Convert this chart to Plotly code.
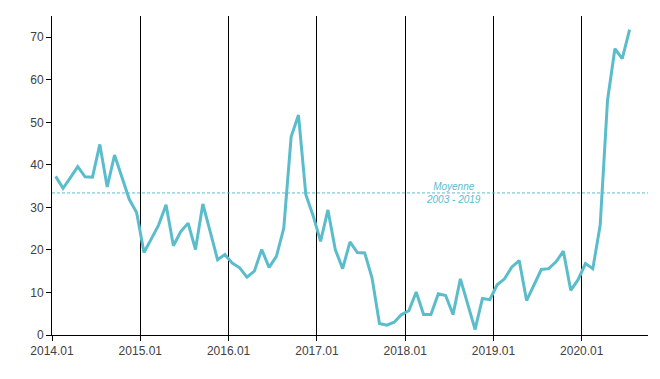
import plotly.graph_objects as go

# Monthly series, 2014.01 -> 2020.07
start_year = 2014
values = [
    37.3, 34.5, 37.0, 39.6, 37.2, 37.1, 44.8, 34.8, 42.3, 37.0, 31.9, 28.8,   # 2014
    19.4, 22.6, 25.9, 30.6, 21.0, 24.3, 26.3, 20.1, 30.8, 24.3, 17.7, 18.9,   # 2015
    16.9, 15.8, 13.6, 15.0, 20.1, 15.9, 18.5, 25.1, 46.6, 51.7, 33.0, 28.0,   # 2016
    22.0, 29.4, 20.1, 15.6, 21.9, 19.4, 19.3, 13.4, 2.7, 2.3, 3.0, 4.8,       # 2017
    5.7, 10.1, 4.8, 4.8, 9.7, 9.3, 4.8, 13.2, 7.2, 1.3, 8.6, 8.3,             # 2018
    11.8, 13.2, 16.0, 17.5, 8.1, 11.8, 15.4, 15.6, 17.2, 19.7, 10.5, 13.0,    # 2019
    16.8, 15.6, 25.8, 55.2, 67.3, 65.0, 71.8,                                 # 2020
]
year_labels = ["2014.01", "2015.01", "2016.01", "2017.01", "2018.01", "2019.01", "2020.01"]
mean_value = 33.4
mean_label = "Moyenne<br>2003 - 2019"
y_ticks = [0, 10, 20, 30, 40, 50, 60, 70]

LINE_COLOR = "#5bbdcc"

# months since 2014.01, plotted at mid-month
x_pos = [i + 0.5 for i in range(len(values))]
tick_pos = [12 * k for k in range(len(year_labels))]

fig = go.Figure()
fig.add_trace(go.Scatter(
    x=x_pos, y=values, mode="lines",
    line=dict(color=LINE_COLOR, width=3),
    hoverinfo="skip", showlegend=False,
))

fig.add_shape(type="line", xref="paper", x0=0, x1=1, yref="y",
              y0=mean_value, y1=mean_value,
              line=dict(color=LINE_COLOR, width=1, dash="3px,2px"))

fig.add_annotation(x=54.5, y=mean_value, xref="x", yref="y",
                   text="<i>" + mean_label + "</i>", showarrow=False,
                   font=dict(family="Liberation Sans, Arial", size=10, color=LINE_COLOR),
                   align="center")

axis_font = dict(family="Liberation Sans, Arial", size=12, color="#404040")

fig.update_layout(
    width=652, height=371,
    margin=dict(l=44, r=12, t=8, b=44),
    paper_bgcolor="white", plot_bgcolor="white",
    showlegend=False,
    xaxis=dict(
        range=[0, 81], tickvals=tick_pos, ticktext=year_labels,
        showgrid=True, gridcolor="black", gridwidth=1,
        showline=True, linecolor="black", linewidth=1,
        ticks="outside", ticklen=5, tickcolor="black",
        zeroline=False, tickfont=axis_font,
    ),
    yaxis=dict(
        range=[0, 75], tickvals=y_ticks,
        showgrid=False, zeroline=False,
        showline=True, linecolor="black", linewidth=1,
        ticks="outside", ticklen=5, tickcolor="black",
        tickfont=axis_font,
    ),
)

fig.write_html("out.html")
